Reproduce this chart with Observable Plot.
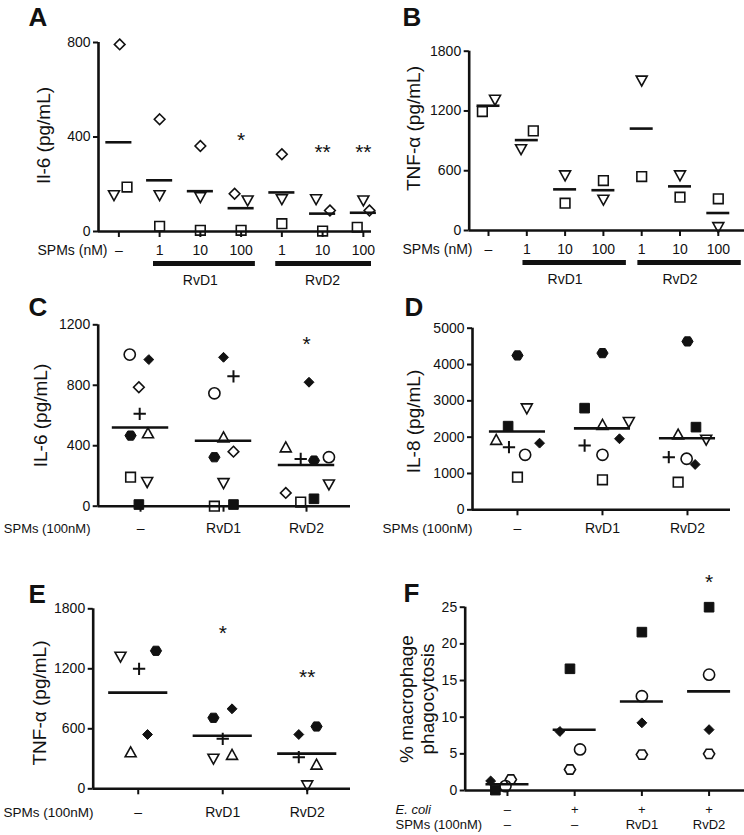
<!DOCTYPE html>
<html><head><meta charset="utf-8">
<script src="https://cdn.jsdelivr.net/npm/d3@7"></script>
<script src="https://cdn.jsdelivr.net/npm/@observablehq/plot@0.6"></script>
<style>
html,body{margin:0;padding:0;background:#fff;}
#fig{position:relative;width:744px;height:835px;overflow:hidden;background:#fff;}
#fig svg{position:absolute;overflow:visible;}
</style></head><body><div id="fig"></div>
<script>
// ================= DATA =================
// Panel A: IL-6 (pg/mL), dose-response
const A_doses  = ["–", "1", "10", "100", "1", "10", "100"];
const A_agents = ["–", "RvD1", "RvD1", "RvD1", "RvD2", "RvD2", "RvD2"];
const A_diamond = [792, 475, 362, 160, 327, 89, 89];
const A_triDown = [153, 153, 145, 131, 136, 136, 131];
const A_square  = [188, 22, 5, 5, 33, 2, 18];
const A_diamond_jit = [0.02, 0, 0, -0.16, 0, 0.18, 0.15];
const A_triDown_jit = [-0.12, 0, 0, 0.16, 0, -0.16, 0];
const A_square_jit  = [0.2, 0, 0, 0, 0, 0, -0.15];
const A_sig   = ["", "", "", "*", "", "**", "**"];
const A_sigAt = [null, null, null, 407, null, 356, 356];

// Panel B: TNF-alpha (pg/mL), dose-response
const B_doses  = ["–", "1", "10", "100", "1", "10", "100"];
const B_agents = ["–", "RvD1", "RvD1", "RvD1", "RvD2", "RvD2", "RvD2"];
const B_square  = [1194, 1000, 274, 501, 542, 334, 318];
const B_triDown = [1311, 815, 552, 308, 1504, 552, 33];
const B_square_jit  = [-0.16, 0.17, 0, 0, 0, 0, 0];
const B_triDown_jit = [0.17, -0.15, 0, 0, 0, 0, 0];

// Panel C: IL-6 (pg/mL), 100 nM
const C_treat = ["–", "RvD1", "RvD2"];
const C_circle   = [1003, 747, 324];
const C_diamondF = [970, 985, 820];
const C_diamond  = [787, 361, 88];
const C_plus     = [611, 859, 313];
const C_hexF     = [467, 324, 302];
const C_triUp    = [483, 456, 390];
const C_square   = [192, 0, 27];
const C_triDown  = [159, 152, 143];
const C_squareF  = [11, 11, 49];
const C_circle_jit   = [-0.13, -0.11, 0.27];
const C_diamondF_jit = [0.1, 0, 0.03];
const C_diamond_jit  = [-0.02, 0.12, -0.25];
const C_plus_jit     = [-0.01, 0.12, -0.07];
const C_hexF_jit     = [-0.12, -0.11, 0.09];
const C_triUp_jit    = [0.09, 0, -0.25];
const C_square_jit   = [-0.12, -0.11, -0.07];
const C_triDown_jit  = [0.08, 0, 0.27];
const C_squareF_jit  = [-0.02, 0.12, 0.09];
const C_sig   = ["", "", "*"];
const C_sigAt = [null, null, 1102];

// Panel D: IL-8 (pg/mL), 100 nM
const D_treat = ["–", "RvD1", "RvD2"];
const D_hexF     = [4250, 4314, 4636];
const D_triDown  = [2790, 2413, 1928];
const D_squareF  = [2303, 2799, 2276];
const D_triUp    = [1928, 2342, 2074];
const D_plus     = [1725, 1771, 1449];
const D_diamondF = [1835, 1956, 1248];
const D_circle   = [1515, 1515, 1405];
const D_square   = [898, 826, 760];
const D_hexF_jit     = [0, 0, 0];
const D_triDown_jit  = [0.11, 0.31, 0.22];
const D_squareF_jit  = [-0.11, -0.21, 0.1];
const D_triUp_jit    = [-0.25, 0, -0.11];
const D_plus_jit     = [-0.1, -0.21, -0.22];
const D_diamondF_jit = [0.26, 0.2, 0.09];
const D_circle_jit   = [0.09, 0, -0.01];
const D_square_jit   = [0, 0, -0.11];

// Panel E: TNF-alpha (pg/mL), 100 nM
const E_treat = ["–", "RvD1", "RvD2"];
const E_triDown  = [1320, 300, 33];
const E_plus     = [1200, 500, 316];
const E_hexF     = [1380, 710, 623];
const E_diamondF = [543, 800, 543];
const E_triUp    = [366, 340, 243];
const E_triDown_jit  = [-0.21, -0.11, 0];
const E_plus_jit     = [0.01, 0, -0.1];
const E_hexF_jit     = [0.21, -0.11, 0.11];
const E_diamondF_jit = [0.11, 0.11, -0.1];
const E_triUp_jit    = [-0.09, 0.11, 0.11];
const E_sig   = ["", "*", "**"];
const E_sigAt = [null, 1603, 1163];

// Panel F: % macrophage phagocytosis
const F_ecoli = ["–", "+", "+", "+"];
const F_spm   = ["–", "–", "RvD1", "RvD2"];
const F_diamondF = [1.3, 8.05, 9.23, 8.3];
const F_squareF  = [0.05, 16.6, 21.6, 25.0];
const F_circle   = [0.6, 5.6, 12.86, 15.8];
const F_hex      = [1.5, 2.86, 4.9, 5.0];
const F_diamondF_jit = [-0.25, -0.22, 0, 0];
const F_squareF_jit  = [-0.18, -0.07, 0, 0];
const F_circle_jit   = [-0.03, 0.08, 0, 0];
const F_hex_jit      = [0.05, -0.07, 0, 0];
const F_sig   = ["", "", "", "*"];
const F_sigAt = [null, null, null, 29.1];

// ================= STYLE =================
const INK = "#111";
const FONT = '"Liberation Sans", Arial, Helvetica, sans-serif';

const SHAPES = {
  square: (c, r) => { const s = 0.86 * r; c.moveTo(-s, -s); c.lineTo(s, -s); c.lineTo(s, s); c.lineTo(-s, s); c.closePath(); },
  circle: (c, r) => { c.moveTo(r, 0); c.arc(0, 0, r, 0, 2 * Math.PI); c.closePath(); },
  triDown: (c, r) => { const w = 0.98 * r; c.moveTo(-w, -0.82 * r); c.lineTo(w, -0.82 * r); c.lineTo(0, 0.95 * r); c.closePath(); },
  triUp: (c, r) => { const w = 0.98 * r; c.moveTo(-w, 0.82 * r); c.lineTo(w, 0.82 * r); c.lineTo(0, -0.95 * r); c.closePath(); },
  diamond: (c, r) => { const s = 0.95 * r; c.moveTo(0, -s); c.lineTo(s, 0); c.lineTo(0, s); c.lineTo(-s, 0); c.closePath(); },
  hexagon: (c, r) => { for (let k = 0; k < 6; k++) { const a = k * Math.PI / 3; const px = r * Math.cos(a), py = r * 0.95 * Math.sin(a); k ? c.lineTo(px, py) : c.moveTo(px, py); } c.closePath(); },
  plus: (c, r) => { const s = 1.1 * r; c.moveTo(-s, 0); c.lineTo(s, 0); c.moveTo(0, -s); c.lineTo(0, s); }
};
const symbolOf = shape => ({ draw(context, size) { SHAPES[shape](context, Math.sqrt(size / Math.PI)); } });

const MARKERS = {
  square:   {shape: "square", filled: false},
  squareF:  {shape: "square", filled: true},
  circle:   {shape: "circle", filled: false},
  diamond:  {shape: "diamond", filled: false},
  diamondF: {shape: "diamond", filled: true, r: 5.2},
  triDown:  {shape: "triDown", filled: false},
  triUp:    {shape: "triUp", filled: false},
  hexF:     {shape: "hexagon", filled: true},
  hex:      {shape: "hexagon", filled: false},
  plus:     {shape: "plus", filled: false, strokeWidth: 2}
};

// ================= BUILDER =================
function buildPanel(cfg) {
  const fx = cfg.left + cfg.ml, fy = cfg.top + cfg.mt;
  const y0abs = cfg.top + cfg.height - cfg.mb;
  const idx = d3.range(cfg.ticks.length);
  const rows = cfg.series.flatMap(s => s.values.map((v, i) => ({key: s.key, g: i, x: i + (s.jitter ? s.jitter[i] : 0), v})));
  const means = idx.map(g => ({g, m: d3.mean(rows.filter(d => d.g === g), d => d.v)}));
  const tickFont = cfg.tickFont || 14;
  const marks = [];

  // axes
  marks.push(Plot.axisY({ticks: cfg.yTicks, tickSize: 5, tickPadding: 3, tickFormat: d3.format("d"), fontSize: 14, strokeWidth: 2, label: null}));
  marks.push(Plot.axisX({ticks: idx, tickSize: 6, tickPadding: cfg.tickPad, tickFormat: i => cfg.ticks[i], fontSize: tickFont, strokeWidth: 2, label: null}));
  marks.push(Plot.ruleY([0], {stroke: INK, strokeWidth: 2.6}));
  marks.push(Plot.ruleX([cfg.xDomain[0]], {y1: 0, y2: cfg.yDomain[1], stroke: INK, strokeWidth: 2.6}));

  // points
  for (const s of cfg.series) {
    const m = MARKERS[s.key];
    marks.push(Plot.dot(rows.filter(d => d.key === s.key), {
      x: "x", y: "v", symbol: symbolOf(m.shape), r: m.r || 5.6,
      fill: m.filled ? INK : "none", stroke: INK,
      strokeWidth: m.strokeWidth || (m.filled ? 1 : 1.6)
    }));
  }

  // means
  marks.push(Plot.ruleY(means, {y: "m", x1: d => d.g - cfg.hw, x2: d => d.g + cfg.hw, stroke: INK, strokeWidth: 2.6}));

  // significance
  if (cfg.sig) {
    marks.push(Plot.text(idx.filter(i => cfg.sig[i]), {x: i => i, y: i => cfg.sigAt[i], text: i => cfg.sig[i], fontSize: 21, dy: 5, fill: INK}));
  }

  // agent bars (A, B)
  if (cfg.agents) {
    const spans = d3.groups(idx.filter(i => cfg.agents[i] !== "–"), i => cfg.agents[i])
      .map(([name, is]) => ({name, from: d3.min(is), to: d3.max(is)}));
    marks.push(Plot.rect(spans, {x1: d => d.from - cfg.barPad[0], x2: d => Math.min(d.to + cfg.barPad[1], cfg.xDomain[1]), y1: 0, y2: 0, dy: 30, insetBottom: -5, fill: INK}));
    marks.push(Plot.text(spans, {x: d => (d.from + d.to) / 2, y: 0, dy: 49, text: "name", fontSize: 14, fill: INK}));
  }

  // second row of x labels (F)
  if (cfg.ticks2) {
    marks.push(Plot.text(idx, {x: i => i, y: 0, dy: cfg.ticks2Dy, text: i => cfg.ticks2[i], fontSize: tickFont, fill: INK}));
  }

  // row labels
  for (const rl of cfg.rowLabels) {
    marks.push(Plot.text([rl.text], {frameAnchor: "bottom-left", dx: rl.x - fx, dy: rl.y - y0abs, textAnchor: rl.anchor, lineAnchor: "middle", fontSize: rl.size || 14, fontStyle: rl.italic ? "italic" : "normal", fill: INK}));
  }

  // y label
  marks.push(Plot.text([cfg.ylabel], {frameAnchor: "left", textAnchor: "middle", lineAnchor: "middle", rotate: -90, dx: cfg.ylabelPos[0] - fx, dy: cfg.ylabelPos[1] - (fy + y0abs) / 2, fontSize: 19, lineHeight: 1.1, fill: INK}));

  // panel letter
  marks.push(Plot.text([cfg.letter], {frameAnchor: "top-left", textAnchor: "start", lineAnchor: "bottom", dx: cfg.letterPos[0] - fx, dy: cfg.letterPos[1] - fy, fontSize: 26, fontWeight: "bold", fill: INK}));

  const svg = Plot.plot({
    width: cfg.width, height: cfg.height,
    marginLeft: cfg.ml, marginRight: cfg.mr, marginTop: cfg.mt, marginBottom: cfg.mb,
    x: {type: "linear", domain: cfg.xDomain},
    y: {type: "linear", domain: cfg.yDomain},
    style: {background: "transparent", overflow: "visible", fontFamily: FONT, color: INK},
    marks
  });
  svg.style.left = cfg.left + "px";
  svg.style.top = cfg.top + "px";
  svg.style.maxWidth = "none";
  document.getElementById("fig").appendChild(svg);
}

// ================= PANELS =================
buildPanel({
  letter: "A", letterPos: [28, 25],
  left: 0, top: 0, width: 372, height: 290, ml: 98, mr: 1, mt: 42, mb: 59,
  xDomain: [-0.5, 6.2], yDomain: [0, 800], yTicks: [0, 400, 800],
  ticks: A_doses, tickPad: 8, agents: A_agents, barPad: [0.15, 0.35], hw: 0.32,
  series: [
    {key: "diamond", values: A_diamond, jitter: A_diamond_jit},
    {key: "triDown", values: A_triDown, jitter: A_triDown_jit},
    {key: "square", values: A_square, jitter: A_square_jit}
  ],
  sig: A_sig, sigAt: A_sigAt,
  rowLabels: [{text: "SPMs (nM)", x: 107, y: 250, anchor: "end"}],
  ylabel: "Il-6 (pg/mL)", ylabelPos: [43, 135]
});

buildPanel({
  letter: "B", letterPos: [402, 25],
  left: 372, top: 0, width: 372, height: 290, ml: 96.7, mr: 0, mt: 50.7, mb: 60,
  xDomain: [-0.504, 6.684], yDomain: [0, 1800], yTicks: [0, 600, 1200, 1800],
  ticks: B_doses, tickPad: 8, agents: B_agents, barPad: [0.1, 0.6], hw: 0.3,
  series: [
    {key: "square", values: B_square, jitter: B_square_jit},
    {key: "triDown", values: B_triDown, jitter: B_triDown_jit}
  ],
  rowLabels: [{text: "SPMs (nM)", x: 472, y: 249, anchor: "end"}],
  ylabel: "TNF-α (pg/mL)", ylabelPos: [413, 128]
});

buildPanel({
  letter: "C", letterPos: [28, 315],
  left: 0, top: 290, width: 372, height: 265, ml: 97.7, mr: 22, mt: 34.3, mb: 49.3,
  xDomain: [-0.51, 2.53], yDomain: [0, 1200], yTicks: [0, 400, 800, 1200],
  ticks: C_treat, tickPad: 11.3, hw: 0.34,
  series: [
    {key: "circle", values: C_circle, jitter: C_circle_jit},
    {key: "diamondF", values: C_diamondF, jitter: C_diamondF_jit},
    {key: "diamond", values: C_diamond, jitter: C_diamond_jit},
    {key: "plus", values: C_plus, jitter: C_plus_jit},
    {key: "hexF", values: C_hexF, jitter: C_hexF_jit},
    {key: "triUp", values: C_triUp, jitter: C_triUp_jit},
    {key: "square", values: C_square, jitter: C_square_jit},
    {key: "triDown", values: C_triDown, jitter: C_triDown_jit},
    {key: "squareF", values: C_squareF, jitter: C_squareF_jit}
  ],
  sig: C_sig, sigAt: C_sigAt,
  rowLabels: [{text: "SPMs (100nM)", x: 90, y: 528, anchor: "end", size: 13}],
  ylabel: "IL-6 (pg/mL)", ylabelPos: [40, 415]
});

buildPanel({
  letter: "D", letterPos: [404, 315],
  left: 372, top: 290, width: 372, height: 265, ml: 100, mr: 14, mt: 37.7, mb: 45.7,
  xDomain: [-0.529, 2.506], yDomain: [0, 5000], yTicks: [0, 1000, 2000, 3000, 4000, 5000],
  ticks: D_treat, tickPad: 7.7, hw: 0.33,
  series: [
    {key: "hexF", values: D_hexF, jitter: D_hexF_jit},
    {key: "triDown", values: D_triDown, jitter: D_triDown_jit},
    {key: "squareF", values: D_squareF, jitter: D_squareF_jit},
    {key: "triUp", values: D_triUp, jitter: D_triUp_jit},
    {key: "plus", values: D_plus, jitter: D_plus_jit},
    {key: "diamondF", values: D_diamondF, jitter: D_diamondF_jit},
    {key: "circle", values: D_circle, jitter: D_circle_jit},
    {key: "square", values: D_square, jitter: D_square_jit}
  ],
  rowLabels: [{text: "SPMs (100nM)", x: 472, y: 528, anchor: "end", size: 13.5}],
  ylabel: "IL-8 (pg/mL)", ylabelPos: [412.5, 421]
});

buildPanel({
  letter: "E", letterPos: [28, 602],
  left: 0, top: 555, width: 372, height: 280, ml: 92.7, mr: 22, mt: 53.3, mb: 46.7,
  xDomain: [-0.533, 2.512], yDomain: [0, 1800], yTicks: [0, 600, 1200, 1800],
  ticks: E_treat, tickPad: 12.7, hw: 0.35,
  series: [
    {key: "triDown", values: E_triDown, jitter: E_triDown_jit},
    {key: "plus", values: E_plus, jitter: E_plus_jit},
    {key: "hexF", values: E_hexF, jitter: E_hexF_jit},
    {key: "diamondF", values: E_diamondF, jitter: E_diamondF_jit},
    {key: "triUp", values: E_triUp, jitter: E_triUp_jit}
  ],
  sig: E_sig, sigAt: E_sigAt,
  rowLabels: [{text: "SPMs (100nM)", x: 93, y: 812, anchor: "end", size: 13.5}],
  ylabel: "TNF-α (pg/mL)", ylabelPos: [38.5, 702.5]
});

buildPanel({
  letter: "F", letterPos: [403, 601],
  left: 372, top: 555, width: 372, height: 280, ml: 92.7, mr: 0, mt: 51.7, mb: 45,
  xDomain: [-0.629, 3.527], yDomain: [0, 25], yTicks: [0, 5, 10, 15, 20, 25],
  ticks: F_ecoli, tickPad: 8.3, tickFont: 13, ticks2: F_spm, ticks2Dy: 34, hw: 0.32,
  series: [
    {key: "diamondF", values: F_diamondF, jitter: F_diamondF_jit},
    {key: "squareF", values: F_squareF, jitter: F_squareF_jit},
    {key: "circle", values: F_circle, jitter: F_circle_jit},
    {key: "hex", values: F_hex, jitter: F_hex_jit}
  ],
  sig: F_sig, sigAt: F_sigAt,
  rowLabels: [
    {text: "E. coli", x: 395, y: 809.5, anchor: "start", italic: true, size: 13},
    {text: "SPMs (100nM)", x: 395, y: 824.5, anchor: "start", size: 13}
  ],
  ylabel: "% macrophage\nphagocytosis", ylabelPos: [416, 698.5]
});
</script>
</body></html>
